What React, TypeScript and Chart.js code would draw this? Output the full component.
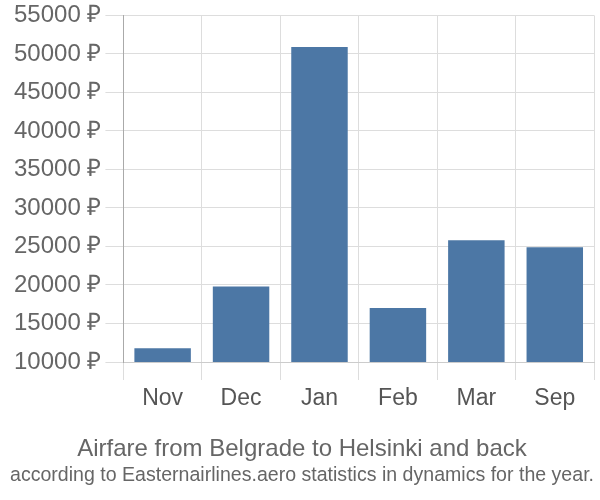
import React, { useEffect, useRef } from "react";
import { Chart, registerables } from "chart.js";

Chart.register(...registerables);

const categories = ["Nov", "Dec", "Jan", "Feb", "Mar", "Sep"];
const prices = [11800, 19800, 50900, 17000, 25800, 24900];
const yMin = 10000;
const yMax = 55000;
const yStep = 5000;
const titleText = "Airfare from Belgrade to Helsinki and back";
const subtitleText = "according to Easternairlines.aero statistics in dynamics for the year.";

const FONT = "Liberation Sans, Arial, sans-serif";

export default function App() {
  const ref = useRef<HTMLCanvasElement>(null);
  useEffect(() => {
    if (!ref.current) return;
    const chart = new Chart(ref.current, {
      type: "bar",
      data: {
        labels: categories,
        datasets: [
          {
            data: prices,
            backgroundColor: "#4c77a5",
            borderWidth: 0,
            barPercentage: 0.72,
            categoryPercentage: 1,
          },
        ],
      },
      options: {
        animation: false,
        responsive: false,
        maintainAspectRatio: false,
        layout: { padding: { top: 0, right: 6, left: 10, bottom: 12 } },
        plugins: {
          legend: { display: false },
          tooltip: { enabled: false },
          title: {
            display: true,
            text: titleText,
            position: "bottom",
            weight: 1000,
            color: "#666",
            font: { family: FONT, size: 24, weight: "normal" },
            padding: { top: 17, bottom: 0 },
          },
          subtitle: {
            display: true,
            text: subtitleText,
            position: "bottom",
            color: "#666",
            font: { family: FONT, size: 20.5, weight: "normal" },
            padding: { top: 0, bottom: 0 },
          },
        },
        scales: {
          x: {
            grid: {
              color: "#dddddd",
              offset: true,
              tickLength: 18,
              drawTicks: true,
            },
            border: { color: "#cccccc" },
            ticks: {
              color: "#555",
              font: { family: FONT, size: 23 },
              padding: 5,
            },
          },
          y: {
            min: yMin,
            max: yMax,
            grid: { color: "#dddddd", tickLength: 18 },
            border: { color: "#aaaaaa" },
            ticks: {
              stepSize: yStep,
              color: "#666",
              font: { family: FONT, size: 24 },
              padding: 4,
              callback: (v: any) => v + " ₽",
            },
          },
        },
      },
    } as any);
    return () => chart.destroy();
  }, []);
  return (
    <div style={{ position: "fixed", left: 0, top: -3, width: 600, height: 503, background: "#fff" }}>
      <canvas ref={ref} width={600} height={503} style={{ width: 600, height: 503 }} />
    </div>
  );
}
